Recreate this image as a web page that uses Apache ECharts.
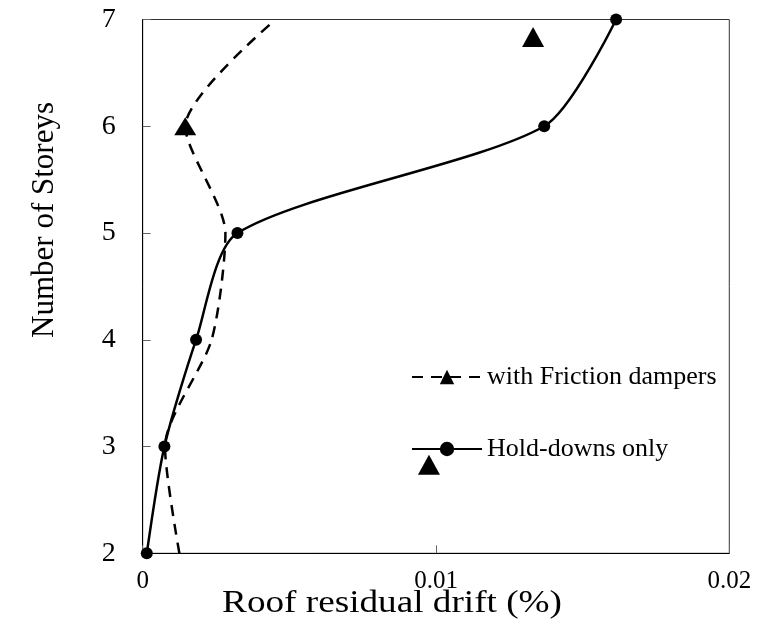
<!DOCTYPE html>
<html>
<head>
<meta charset="utf-8">
<script src="https://cdn.jsdelivr.net/npm/echarts@6/dist/echarts.min.js"></script>
<style>
html,body{margin:0;padding:0;background:#fff;}
#chart{width:768px;height:633px;}
</style>
</head>
<body>
<div id="chart"></div>
<script>
// Data
const storeys = [2, 3, 4, 5, 6, 7];
const holdDownsDrift = [0.00014, 0.00074, 0.00182, 0.00323, 0.01369, 0.01614];
const frictionDrift = [0.00125, 0.00076, 0.00235, 0.00282, 0.00145, 0.00453];
const frictionMarkerStoreys = [6];
const extraTrianglesX = [0.01331, 0.00976];
const extraTrianglesY = [6.836, 2.83];
const xTicks = [0, 0.01, 0.02];
const yTicks = [2, 3, 4, 5, 6, 7];

const serif = "'Liberation Serif', 'Times New Roman', serif";

const holdData = storeys.map((s, i) => [holdDownsDrift[i], s]);
const fricData = storeys.map((s, i) => {
  const item = { value: [frictionDrift[i], s] };
  if (frictionMarkerStoreys.indexOf(s) < 0) item.symbol = 'none';
  return item;
});
const extraData = extraTrianglesX.map((x, i) => [x, extraTrianglesY[i]]);

const chart = echarts.init(document.getElementById('chart'));
chart.setOption({
  animation: false,
  backgroundColor: '#fff',
  grid: {
    left: 142.7, right: 38.7, top: 19.5, bottom: 79.7,
    show: true, borderColor: '#333', borderWidth: 1, backgroundColor: 'transparent'
  },
  xAxis: {
    type: 'value', min: 0, max: 0.02, interval: 0.01,
    axisLine: { show: true, lineStyle: { color: '#000', width: 1 } },
    axisTick: { show: true, inside: true, length: 8, lineStyle: { color: '#666' } },
    splitLine: { show: false },
    axisLabel: {
      margin: 16, color: '#000', fontFamily: serif, fontSize: 25,
      formatter: v => (xTicks.indexOf(v) >= 0 ? (v === 0 ? '0' : v.toFixed(2)) : '')
    }
  },
  yAxis: {
    type: 'value', min: 2, max: 7, interval: 1,
    axisLine: { show: true, lineStyle: { color: '#000', width: 1 } },
    axisTick: { show: true, inside: true, length: 8, lineStyle: { color: '#666' } },
    splitLine: { show: false },
    axisLabel: {
      margin: 27, color: '#000', fontFamily: serif, fontSize: 28,
      formatter: v => (yTicks.indexOf(v) >= 0 ? String(v) : '')
    }
  },
  legend: {
    orient: 'vertical', left: 406, top: 359,
    itemWidth: 70, itemHeight: 18, itemGap: 46,
    textStyle: { fontFamily: serif, fontSize: 26, color: '#000', lineHeight: 26 },
    data: ['with Friction dampers', 'Hold-downs only']
  },
  graphic: [
    {
      type: 'text', x: 45, y: 220, rotation: Math.PI / 2,
      style: { text: 'Number of Storeys', font: '31px ' + serif, fill: '#000', align: 'center', verticalAlign: 'middle' }
    },
    {
      type: 'text', x: 392, y: 604, scaleX: 1.2,
      style: { text: 'Roof residual drift (%)', font: '31px ' + serif, fill: '#000', align: 'center', verticalAlign: 'middle' }
    }
  ],
  series: [
    {
      name: 'with Friction dampers', type: 'line', smooth: 0.25,
      data: fricData, symbol: 'triangle', symbolSize: [22, 18],
      itemStyle: { color: '#000' },
      lineStyle: { color: '#000', width: 2.5, type: [11, 8] },
      z: 3
    },
    {
      name: 'Hold-downs only', type: 'line', smooth: 0.25,
      data: holdData, symbol: 'circle', symbolSize: 12,
      itemStyle: { color: '#000' },
      lineStyle: { color: '#000', width: 2.5 },
      z: 4
    },
    {
      name: 'extra', type: 'scatter', data: extraData,
      symbol: 'triangle', symbolSize: [22, 20],
      itemStyle: { color: '#000', opacity: 1 }, z: 3
    }
  ]
});
</script>
</body>
</html>
